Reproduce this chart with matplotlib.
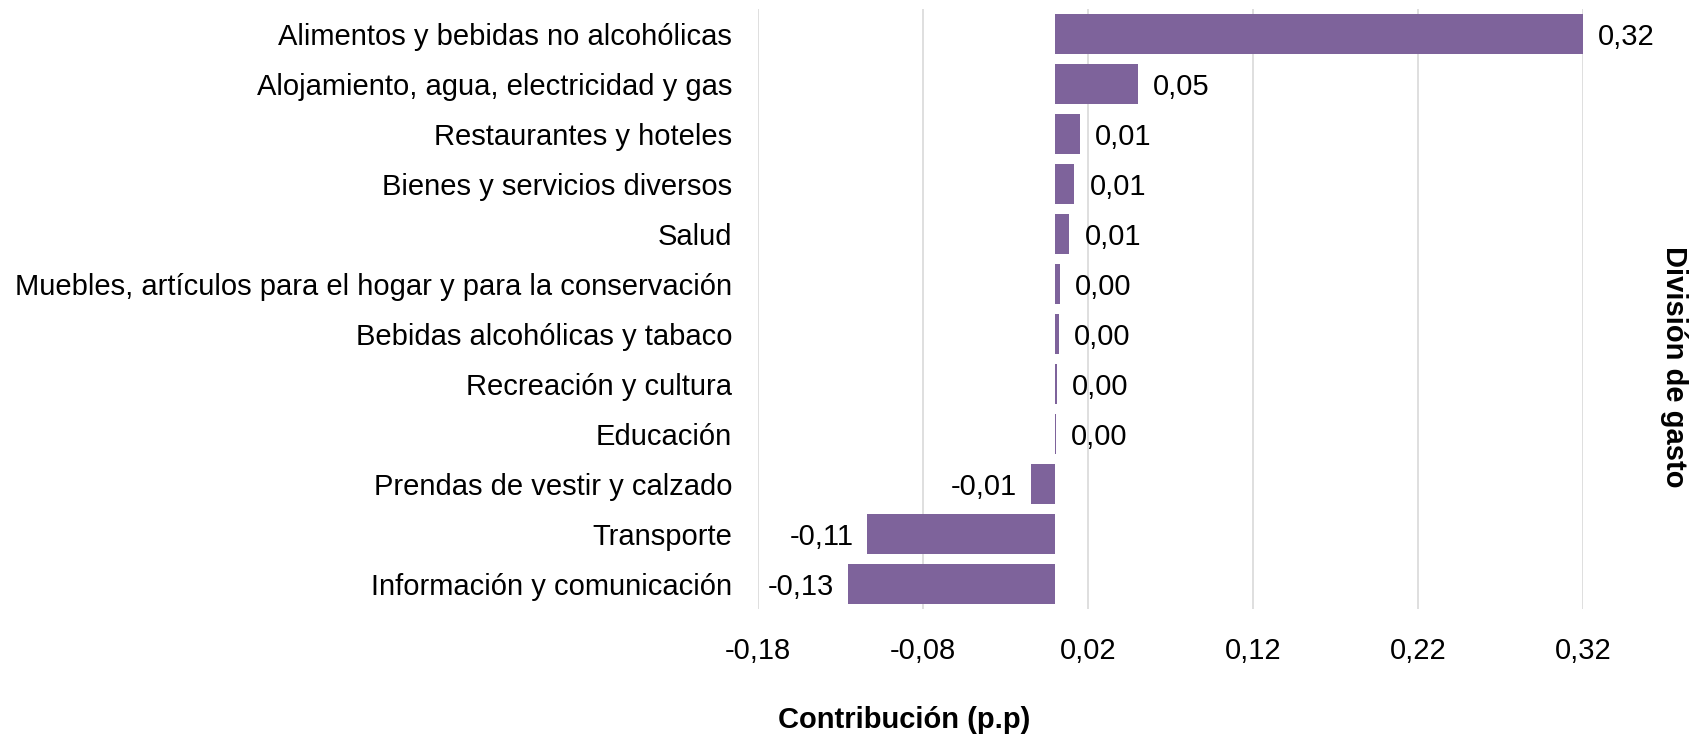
import matplotlib
matplotlib.use("Agg")
import matplotlib.pyplot as plt

plt.rcParams['font.family'] = ['Liberation Sans', 'DejaVu Sans']

categories = [
    "Alimentos y bebidas no alcohólicas",
    "Alojamiento, agua, electricidad y gas",
    "Restaurantes y hoteles",
    "Bienes y servicios diversos",
    "Salud",
    "Muebles, artículos para el hogar y para la conservación",
    "Bebidas alcohólicas y tabaco",
    "Recreación y cultura",
    "Educación",
    "Prendas de vestir y calzado",
    "Transporte",
    "Información y comunicación",
]
values = [0.320, 0.0503, 0.0150, 0.0118, 0.0086, 0.0028, 0.0022, 0.0010, 0.0004, -0.0148, -0.1137, -0.1257]
tick_values = [-0.18, -0.08, 0.02, 0.12, 0.22, 0.32]
tick_labels = ["-0,18", "-0,08", "0,02", "0,12", "0,22", "0,32"]

BAR = "#7E639B"
FS = 21

fig = plt.figure(figsize=(16.91, 7.35), dpi=100)
ax = fig.add_axes([758/1691, 1 - 609/735, (1583-758)/1691, (609-9)/735])

y = list(range(len(categories)))
ax.barh(y, values, height=0.79, color=BAR, zorder=3)
ax.set_ylim(len(categories) - 0.5, -0.5)
ax.set_xlim(-0.18, 0.32)
ax.set_xticks(tick_values)
ax.set_xticklabels(tick_labels, fontsize=FS)
ax.set_yticks(y)
ax.set_yticklabels(categories, fontsize=FS)
ax.tick_params(axis='both', length=0)
ax.tick_params(axis='y', pad=18.5)
ax.tick_params(axis='x', pad=20)
ax.grid(axis='x', color='#D9D9D9', linewidth=1.2, zorder=0)
for s in ax.spines.values():
    s.set_visible(False)

for yi, v in zip(y, values):
    txt = f"{v:.2f}".replace(".", ",")
    if v >= 0:
        ax.annotate(txt, (v, yi), xytext=(11, 0), textcoords='offset points',
                    ha='left', va='center_baseline', fontsize=FS, annotation_clip=False, zorder=4)
    else:
        ax.annotate(txt, (v, yi), xytext=(-10, 0), textcoords='offset points',
                    ha='right', va='center_baseline', fontsize=FS, annotation_clip=False, zorder=4)

fig.text(904/1691, 1 - 720/735, "Contribución (p.p)", fontsize=FS, fontweight='bold',
         ha='center', va='center')
fig.text(1674/1691, 1 - 367/735, "División de gasto", fontsize=FS, fontweight='bold',
         ha='center', va='center', rotation=-90)

fig.savefig("out.png", dpi=100)
